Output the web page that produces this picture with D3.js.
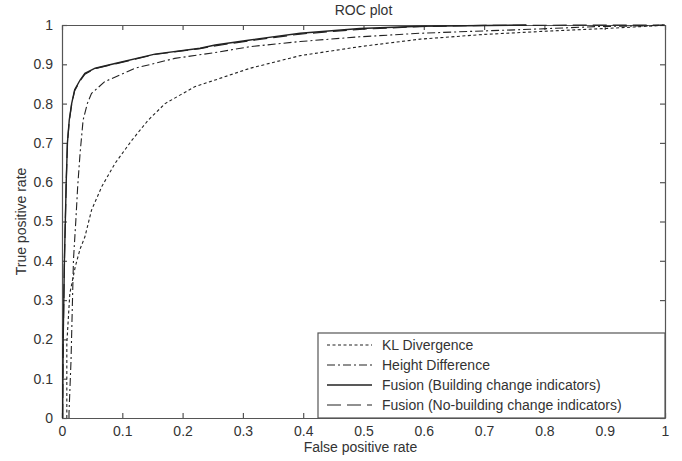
<!DOCTYPE html>
<html>
<head>
<meta charset="utf-8">
<script src="https://cdn.jsdelivr.net/npm/d3@7"></script>
<style>
  body { margin: 0; background: #fff; }
  svg { display: block; }
</style>
</head>
<body>
<svg id="chart" width="682" height="461"></svg>
<script>
const ticks = [0, 0.1, 0.2, 0.3, 0.4, 0.5, 0.6, 0.7, 0.8, 0.9, 1];

// [false positive rate, true positive rate]
const klDivergence = [
  [0.008, 0], [0.008, 0.19], [0.013, 0.317], [0.022, 0.385],
  [0.03, 0.43], [0.038, 0.461], [0.049, 0.529], [0.066, 0.589], [0.088, 0.648],
  [0.116, 0.707], [0.143, 0.758], [0.171, 0.8], [0.22, 0.843], [0.254, 0.86],
  [0.312, 0.89], [0.395, 0.922], [0.494, 0.945], [0.594, 0.964], [0.7, 0.976],
  [0.8, 0.984], [0.9, 0.991], [0.986, 0.998], [1, 1]
];
const heightDiff = [
  [0.0116, 0], [0.0116, 0.012], [0.015, 0.148], [0.017, 0.275], [0.019, 0.402],
  [0.023, 0.504], [0.026, 0.589], [0.03, 0.674], [0.035, 0.758], [0.042, 0.8],
  [0.049, 0.826], [0.071, 0.856], [0.121, 0.89], [0.187, 0.915], [0.254, 0.93],
  [0.312, 0.945], [0.395, 0.958], [0.494, 0.97], [0.594, 0.979], [0.7, 0.985],
  [0.776, 0.989], [0.887, 0.996], [0.975, 0.998], [1, 1]
];
const fusionBuilding = [
  [0.001, 0], [0.002, 0.2], [0.004, 0.4], [0.007, 0.6], [0.009, 0.7],
  [0.012, 0.758], [0.016, 0.8], [0.021, 0.835], [0.03, 0.86], [0.038, 0.877],
  [0.055, 0.89], [0.088, 0.902], [0.154, 0.926], [0.229, 0.941], [0.254, 0.949],
  [0.312, 0.962], [0.395, 0.979], [0.494, 0.991], [0.594, 0.997], [0.77, 1]
];
const fusionNoBuilding = [
  [0.001, 0], [0.002, 0.2], [0.004, 0.4], [0.007, 0.6], [0.009, 0.7],
  [0.012, 0.755], [0.016, 0.798], [0.021, 0.833], [0.03, 0.858], [0.038, 0.875],
  [0.055, 0.889], [0.088, 0.901], [0.154, 0.925], [0.229, 0.94], [0.254, 0.947],
  [0.312, 0.96], [0.395, 0.977], [0.494, 0.989], [0.594, 0.996], [0.7, 0.999], [1, 1]
];

const seriesNames = [
  "KL Divergence",
  "Height Difference",
  "Fusion (Building change indicators)",
  "Fusion (No-building change indicators)"
];
const seriesData = [klDivergence, heightDiff, fusionBuilding, fusionNoBuilding];
const dashes = ["3,2.5", "8,3,2,3", null, "14,6"];
const widths = [1.1, 1.1, 1.4, 1.2];

const margin = { left: 62, right: 17, top: 25, bottom: 43 };
const width = 682, height = 461;
const textColor = "#333";
const axisColor = "#555";
const fontSize = 14;

const svg = d3.select("#chart");
const x = d3.scaleLinear().domain([0, 1]).range([margin.left, width - margin.right]);
const y = d3.scaleLinear().domain([0, 1]).range([height - margin.bottom, margin.top]);

const chart = svg.append("g")
  .attr("font-family", "'Liberation Sans', Arial, sans-serif")
  .attr("font-size", fontSize);

// axes with inward ticks on all four sides
chart.append("g")
  .attr("transform", `translate(0,${y(0)})`)
  .call(d3.axisBottom(x).tickValues(ticks).tickSizeInner(-5).tickSizeOuter(0).tickPadding(8).tickFormat(d3.format("")));
chart.append("g")
  .attr("transform", `translate(0,${y(1)})`)
  .call(d3.axisTop(x).tickValues(ticks).tickSizeInner(-5).tickSizeOuter(0).tickFormat(""));
chart.append("g")
  .attr("transform", `translate(${x(0)},0)`)
  .call(d3.axisLeft(y).tickValues(ticks).tickSizeInner(-5).tickSizeOuter(0).tickPadding(9).tickFormat(d3.format("")));
chart.append("g")
  .attr("transform", `translate(${x(1)},0)`)
  .call(d3.axisRight(y).tickValues(ticks).tickSizeInner(-5).tickSizeOuter(0).tickFormat(""));

chart.selectAll(".domain, .tick line").attr("stroke", axisColor).attr("stroke-width", 1.2);
chart.selectAll(".tick text")
  .attr("fill", textColor)
  .attr("font-size", fontSize)
  .attr("font-family", "'Liberation Sans', Arial, sans-serif");

// curves
const line = d3.line().x((d) => x(d[0])).y((d) => y(d[1]));

chart.append("g")
  .attr("class", "data")
  .selectAll("path")
  .data(seriesData)
  .join("path")
  .attr("d", line)
  .attr("fill", "none")
  .attr("stroke", "#222")
  .attr("stroke-width", (d, i) => widths[i])
  .attr("stroke-dasharray", (d, i) => dashes[i]);

// title and axis labels
chart.append("text")
  .attr("x", x(0.5))
  .attr("y", 15)
  .attr("text-anchor", "middle")
  .attr("fill", textColor)
  .text("ROC plot");

chart.append("text")
  .attr("x", x(0.495))
  .attr("y", 452)
  .attr("text-anchor", "middle")
  .attr("fill", textColor)
  .text("False positive rate");

chart.append("text")
  .attr("transform", `translate(26,${y(0.5)}) rotate(-90)`)
  .attr("text-anchor", "middle")
  .attr("fill", textColor)
  .text("True positive rate");

// legend
const legend = chart.append("g").attr("class", "legend");
const legX = 318, legY = 333;
legend.append("rect")
  .attr("x", legX)
  .attr("y", legY)
  .attr("width", x(1) - legX)
  .attr("height", y(0) - legY)
  .attr("fill", "#fff")
  .attr("stroke", axisColor)
  .attr("stroke-width", 1.2);

const rows = legend.selectAll("g.row")
  .data(seriesNames)
  .join("g")
  .attr("class", "row")
  .attr("transform", (d, i) => `translate(${legX},${legY + 12 + i * 20})`);

rows.append("line")
  .attr("x1", 9)
  .attr("x2", 54)
  .attr("stroke", "#222")
  .attr("stroke-width", (d, i) => widths[i])
  .attr("stroke-dasharray", (d, i) => dashes[i]);

rows.append("text")
  .attr("x", 64)
  .attr("dy", "0.35em")
  .attr("fill", textColor)
  .text((d) => d);
</script>
</body>
</html>
